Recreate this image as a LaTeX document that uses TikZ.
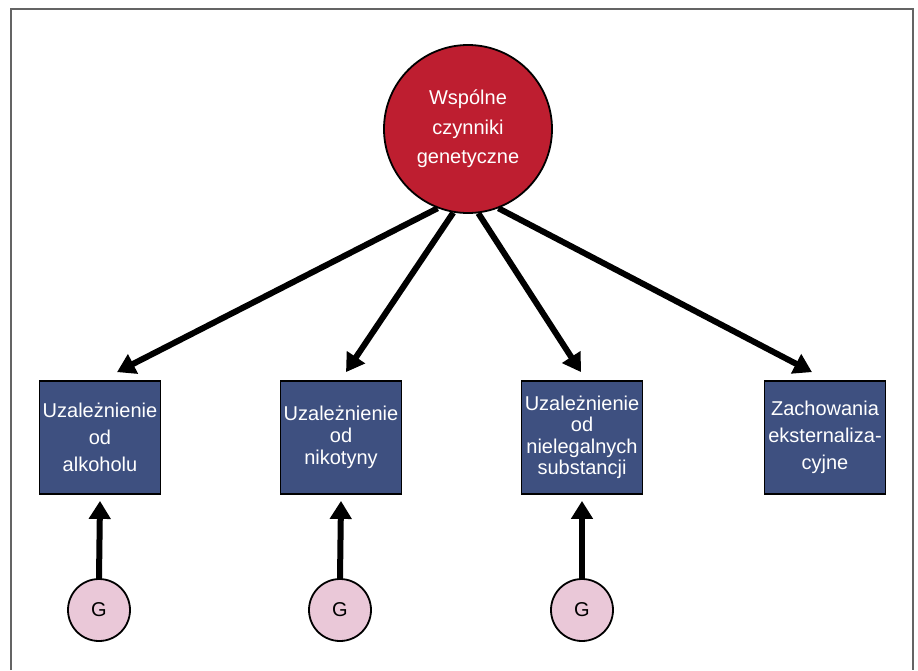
\documentclass[tikz,border=0pt]{standalone}
\usepackage{fontspec}
\setmainfont{Liberation Sans}
\usetikzlibrary{arrows.meta,calc}
\definecolor{frameg}{RGB}{100,100,100}
\definecolor{gred}{RGB}{190,30,48}
\definecolor{bblue}{RGB}{62,80,128}
\definecolor{gpink}{RGB}{234,200,216}
\tikzset{
  genecirc/.style={circle,draw=black,line width=1.8pt,fill=gred,minimum size=168pt,inner sep=0pt,
    text=white,align=center,font=\fontsize{20}{29.5}\selectfont},
  phenobox/.style={rectangle,draw=black,line width=1.8pt,fill=bblue,minimum width=121pt,minimum height=113pt,
    inner sep=0pt,text=white,align=center},
  gcirc/.style={circle,draw=black,line width=1.8pt,fill=gpink,minimum size=62pt,inner sep=0pt,
    font=\fontsize{20}{24}\selectfont},
  bigarrow/.style={line width=6pt,-{Triangle[length=18pt,width=21pt]}},
}
\begin{document}
\begin{tikzpicture}[x=1pt,y=-1pt]
\useasboundingbox (0,0) rectangle (918,670);
\draw[frameg,line width=2pt] (11,670) -- (11,9) -- (913,9) -- (913,670);
\node[genecirc] (w) at (468,129) {Wspólne\\czynniki\\genetyczne};
\node[phenobox,font=\fontsize{20}{27}\selectfont] (b1) at (100,437.5) {Uzależnienie\\od\\alkoholu};
\node[phenobox,font=\fontsize{20}{22}\selectfont] (b2) at (341,437.5) {Uzależnienie\\od\\nikotyny};
\node[phenobox,font=\fontsize{20}{21.5}\selectfont] (b3) at (582,437.5) {Uzależnienie\\od\\nielegalnych\\substancji};
\node[phenobox,font=\fontsize{20}{27}\selectfont] (b4) at (825,437.5) {Zachowania\\eksternaliza-\\cyjne};
\node[gcirc] (g1) at (99,610) {G};
\node[gcirc] (g2) at (340,610) {G};
\node[gcirc] (g3) at (582,610) {G};
\draw[bigarrow] (w.249) -- ($(b1.north)+(17,-8)$);
\draw[bigarrow] (w.260) -- ($(b2.north)+(5,-8)$);
\draw[bigarrow] (w.277) -- ($(b3.north)+(-1,-8)$);
\draw[bigarrow] (w.291) -- ($(b4.north)+(-13,-8)$);
\draw[bigarrow] (g1.north) -- ($(b1.south)+(0,6)$);
\draw[bigarrow] (g2.north) -- ($(b2.south)+(0,6)$);
\draw[bigarrow] (g3.north) -- ($(b3.south)+(0,6)$);
\end{tikzpicture}
\end{document}
